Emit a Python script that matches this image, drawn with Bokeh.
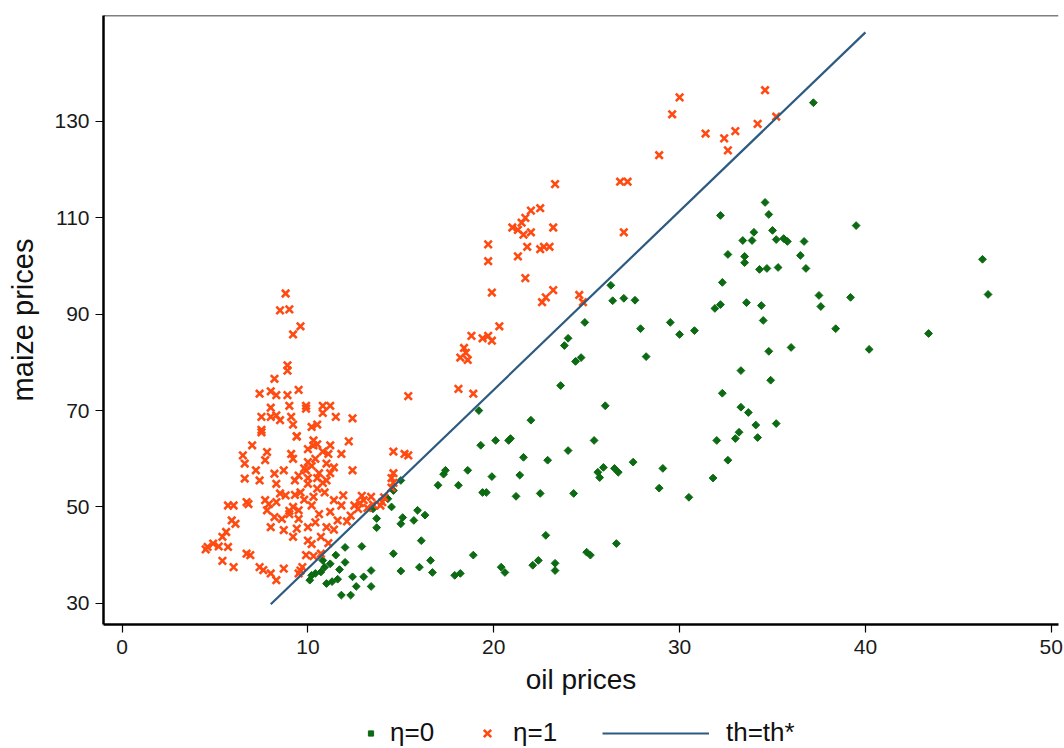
from bokeh.plotting import figure
from bokeh.layouts import column
from bokeh.models import FixedTicker, Span, Legend, LegendItem, Range1d
from bokeh.embed import file_html
from bokeh.resources import INLINE
import math

# ---------------- data ----------------
x_ticks = [0, 10, 20, 30, 40, 50]
y_ticks = [30, 50, 70, 90, 110, 130]

# eta = 1 (orange crosses)
eta1_x = [34.6, 30.0, 29.6, 35.2, 34.2, 31.4, 33.0, 32.4, 32.6, 28.9, 27.2, 26.8, 23.3, 27.0,
          22.5, 22.0, 21.7, 21.5, 21.0, 21.3, 21.6, 22.0, 23.2, 19.7, 21.8, 23.0, 22.7, 22.5, 19.7,
          21.3, 21.7, 23.2, 22.6, 22.8, 24.6, 24.8, 19.9, 20.3, 19.7, 19.4, 19.9, 18.8, 18.4, 18.5,
          18.2, 18.6, 18.1, 18.9, 15.4,
          14.6, 15.2, 15.4, 14.6, 14.5, 14.6, 14.5,
          8.8, 8.5, 9.0, 9.6, 9.2, 8.9, 8.9, 8.2, 7.4, 8.0, 8.3, 8.9, 9.5, 8.0, 9.0, 9.9, 9.9, 10.8,
          11.2, 10.8, 7.5, 8.0, 8.3, 8.5, 9.1, 9.2, 11.5, 7.5, 10.2, 10.5, 9.4, 10.3, 12.4, 12.2,
          7.5, 9.4, 7.0, 6.5, 6.6, 6.6, 7.8, 7.7, 7.2, 7.4, 8.2, 9.1, 9.2, 8.7, 10.0, 10.3, 10.5,
          11.2, 11.1, 11.8, 11.4, 12.4, 9.9, 10.0, 10.5, 9.3, 8.3, 8.5, 7.7, 7.9, 8.3, 8.8, 9.2,
          9.5, 9.0, 10.0, 10.5, 10.3, 10.2, 11.4, 11.9, 11.8, 12.5, 13.0, 13.4, 12.7, 6.0, 5.7,
          6.7, 5.9, 6.1, 5.6, 5.4, 4.9, 4.6, 4.5, 5.7, 5.2, 5.4, 6.0, 6.7, 6.9, 7.4, 7.6, 8.0, 8.3,
          8.7, 7.8, 8.2, 8.0, 8.6, 9.0, 9.5, 9.2, 10.0, 10.0, 10.2, 10.7, 11.0, 11.4, 11.6, 12.1,
          11.1, 10.7, 10.3, 9.9, 9.6, 9.5, 9.7,
          9.8, 10.2, 10.6, 10.4, 10.8, 9.5, 10.0, 11.0, 11.2, 10.8, 9.6, 13.5, 14.0, 14.1, 13.9,
          12.8, 11.0, 10.9, 9.8, 9.3, 10.6, 11.2, 12.3, 10.4, 8.7, 9.4, 6.8, 12.9, 13.2]
eta1_y = [136.5, 135.0, 131.5, 131.0, 129.5, 127.5, 128.0, 126.5, 124.0, 123.0, 117.5, 117.5, 117.0, 107.0,
          112.0, 111.5, 110.0, 109.0, 108.0, 107.5, 106.5, 107.0, 108.0, 104.5, 104.0, 104.0, 104.0, 103.5, 101.0,
          102.0, 97.5, 95.0, 92.5, 93.5, 94.0, 92.5, 94.5, 87.5, 85.5, 85.0, 84.5, 85.5, 83.0, 82.0,
          81.0, 80.5, 74.5, 73.5, 73.0,
          61.5, 61.0, 60.7, 57.0, 56.0, 55.0, 54.0,
          94.3, 90.8, 91.0, 87.5, 85.8, 79.4, 78.3, 76.6, 73.5, 74.0, 73.2, 73.2, 74.3, 70.6, 71.0, 71.0, 70.4, 71.0,
          71.0, 69.5, 68.7, 68.7, 69.0, 68.0, 68.7, 67.1, 68.7, 66.0, 66.6, 67.1, 64.7, 63.8, 68.4, 63.6,
          65.5, 64.6, 62.8, 60.7, 59.0, 55.9, 61.4, 59.7, 57.6, 55.5, 56.9, 61.0, 60.0, 57.6, 59.3, 62.8, 63.0,
          62.8, 61.0, 61.0, 58.2, 57.6, 57.6, 56.0, 56.0, 55.5, 54.8, 52.8, 51.4, 50.6, 51.0, 52.4, 50.0,
          49.3, 49.2, 54.8, 53.8, 52.1, 50.3, 51.4, 52.4, 50.3, 50.3, 51.4, 52.1, 49.6, 50.3, 50.3,
          51.0, 47.2, 46.5, 44.8, 43.8, 42.4, 41.7, 41.2, 41.7, 41.8, 38.8, 37.5, 40.3, 40.0, 37.5, 36.9, 36.2, 34.8,
          37.2, 49.3, 47.9, 45.8, 47.5, 48.5, 47.5, 43.8, 45.8, 43.0, 42.3, 43.8, 45.8, 45.3, 47.2, 47.0,
          42.5, 40.3, 39.8, 40.0, 36.8, 36.2, 37.5,
          58.0, 58.5, 57.0, 60.0, 61.5, 56.5, 62.0, 59.0, 57.0, 55.0, 53.0, 50.5, 51.0, 52.0, 50.3,
          50.8, 55.5, 53.0, 51.5, 52.5, 48.5, 49.0, 48.2, 46.8, 45.2, 45.5, 50.6, 52.3, 49.8]

# eta = 0 (green diamonds)
eta0_x = [15.0, 14.6, 14.3, 14.5, 13.5, 13.7, 13.7, 15.1, 15.7, 15.0, 12.0, 12.9, 11.5, 11.2, 10.8,
          10.4, 10.2, 10.1, 11.0, 11.3, 12.4, 13.0, 13.4, 13.4, 11.8, 12.3, 14.6, 15.0, 16.0,
          12.0, 11.7, 10.7, 10.9, 11.6, 12.6,
          15.9, 16.1, 16.3, 16.6, 16.7, 17.0, 17.3, 17.4, 18.1, 18.6, 17.9, 18.2, 18.9, 19.2, 19.3,
          19.4, 19.6, 19.9, 20.1, 20.4, 20.6, 20.8, 20.9, 21.2, 21.4, 21.6, 22.0, 22.1, 22.4, 22.5,
          22.8, 22.9, 23.3, 23.3, 23.6, 23.8, 24.0, 24.0, 24.3, 24.4, 24.7, 24.9, 25.0, 25.2, 25.4,
          25.6, 25.7, 25.9, 26.0, 26.3, 26.4, 26.5, 26.7, 26.6, 27.0, 27.5, 27.6, 27.9, 28.2, 28.9,
          29.1, 29.5, 30.0, 30.5, 30.8, 31.8, 32.0, 31.9, 32.2, 32.2, 32.3, 32.6, 32.3, 32.6, 33.0,
          33.2, 33.3, 33.3, 33.4, 33.5, 33.5, 33.6, 33.7, 33.9, 34.0, 34.1, 34.2, 34.3, 34.4, 34.5,
          34.6, 34.7, 34.8, 34.8, 34.9, 35.0, 35.2, 35.2, 35.3, 35.6, 35.8, 36.0, 36.5, 36.7, 36.8,
          37.2, 37.5, 37.6, 38.4, 39.2, 39.5, 40.2, 43.4, 46.3, 46.6]
eta0_y = [55.5, 53.4, 51.7, 50.0, 49.6, 47.6, 45.7, 47.8, 47.2, 46.5, 41.6, 41.8, 40.0, 38.2, 38.9,
          36.2, 35.8, 34.8, 34.1, 34.5, 35.5, 35.5, 36.8, 33.5, 31.7, 31.7, 40.3, 36.7, 37.5,
          38.5, 37.0, 36.5, 37.5, 35.0, 33.5,
          49.3, 43.0, 48.3, 38.9, 36.4, 54.5, 56.8, 57.6, 54.5, 57.6, 35.8, 36.2, 40.0, 70.0, 62.8,
          53.0, 53.0, 56.3, 63.8, 37.5, 36.4, 63.8, 64.2, 52.2, 56.6, 60.3, 68.0, 37.9, 38.9, 52.8,
          44.1, 59.7, 36.8, 38.3, 75.2, 83.5, 85.0, 61.7, 52.8, 80.2, 81.0, 88.3, 40.6, 40.0, 63.8,
          57.2, 56.1, 58.2, 71.0, 96.0, 92.8, 58.0, 57.2, 42.4, 93.3, 59.3, 92.9, 87.0, 81.2, 53.9,
          58.0, 88.3, 85.8, 52.0, 86.6, 56.0, 63.8, 91.2, 92.0, 110.5, 96.6, 102.4, 73.6, 59.7, 64.2,
          65.5, 70.7, 78.3, 105.3, 100.7, 102.0, 92.4, 69.6, 105.3, 107.0, 67.0, 64.4, 99.3, 91.8, 88.7,
          113.2, 99.5, 110.7, 82.3, 76.3, 107.4, 105.5, 67.3, 99.7, 105.7, 105.1, 83.1, 102.2, 105.1, 99.5,
          133.9, 93.9, 91.6, 87.0, 93.5, 108.4, 82.7, 86.0, 101.4, 94.1]

# th = th* line
line_x = [8.0, 40.0]
line_y = [29.8, 148.5]

legend_labels = ["η=0", "η=1", "th=th*"]

# ---------------- styles ----------------
GREEN = "#0b6a12"
ORANGE = "#ff4a12"
NAVY = "#2c5a80"
FONT = "Liberation Sans"
x_lo, x_hi = -1.0, 50.39
y_lo, y_hi = 25.6, 152.0

green_style = dict(marker="square", size=5.5, angle=math.pi / 4, fill_color=GREEN, line_color=GREEN)
orange_style = dict(marker="x", size=10.5, line_color=ORANGE, line_width=2.6)
line_style = dict(line_color=NAVY, line_width=2.2)

p = figure(width=1064, height=708,
           x_range=Range1d(x_lo, x_hi), y_range=Range1d(y_lo, y_hi),
           output_backend="svg", toolbar_location=None,
           min_border_left=103, min_border_right=6, min_border_top=15, min_border_bottom=84)

p.outline_line_color = None
p.xgrid.visible = False
p.ygrid.visible = False
p.background_fill_color = "white"
p.border_fill_color = "white"

p.scatter(eta0_x, eta0_y, **green_style)
p.scatter(eta1_x, eta1_y, **orange_style)
p.line(line_x, line_y, **line_style)

p.add_layout(Span(location=y_hi, dimension="width", line_color="black", line_width=1.5))

for ax in (p.xaxis[0], p.yaxis[0]):
    ax.axis_line_color = "black"
    ax.axis_line_width = 2.5
    ax.major_tick_line_color = "black"
    ax.major_tick_line_width = 1.2
    ax.major_tick_out = 8
    ax.major_tick_in = 0
    ax.minor_tick_line_color = None
    ax.major_label_text_font = FONT
    ax.major_label_text_font_size = "21px"
    ax.major_label_text_color = "#1a1a1a"
    ax.axis_label_text_font = FONT
    ax.axis_label_text_font_style = "normal"
    ax.axis_label_text_color = "#111111"

p.xaxis.axis_label_text_font_size = "28px"
p.yaxis.axis_label_text_font_size = "29px"
p.xaxis.ticker = FixedTicker(ticks=x_ticks)
p.yaxis.ticker = FixedTicker(ticks=y_ticks)
p.xaxis.axis_label = "oil prices"
p.yaxis.axis_label = "maize prices"
p.xaxis.major_label_standoff = 7
p.yaxis.major_label_standoff = 6
p.xaxis.axis_label_standoff = 7
p.yaxis.axis_label_standoff = 12

# ---------------- legend strip ----------------
# The strip's ranges lie far outside the data, so its renderers show only in the legend.
lf = figure(width=1064, height=40, x_range=Range1d(-3, -2), y_range=Range1d(-3, -2),
            output_backend="svg", toolbar_location=None,
            x_axis_type=None, y_axis_type=None, min_border=0)
lf.outline_line_color = None
lf.xgrid.visible = False
lf.ygrid.visible = False
lg = lf.scatter(eta0_x, eta0_y, **green_style)
lo = lf.scatter(eta1_x, eta1_y, **orange_style)
ll = lf.line(line_x, line_y, **line_style)

common = dict(orientation="horizontal", glyph_height=26, label_height=26, padding=0, margin=0,
              border_line_color=None, background_fill_alpha=0,
              label_text_font=FONT, label_text_font_size="26px", label_text_color="#111111")
# column() aligns frames, so the strip's frame starts at the main frame's left edge (103 px)
leg_g = Legend(items=[LegendItem(label=legend_labels[0], renderers=[lg])],
               location=(261, 0), glyph_width=13, label_standoff=13, **common)
leg_o = Legend(items=[LegendItem(label=legend_labels[1], renderers=[lo])],
               location=(371, 0), glyph_width=26, label_standoff=13, **common)
leg_l = Legend(items=[LegendItem(label=legend_labels[2], renderers=[ll])],
               location=(499, 0), glyph_width=107, label_standoff=17, **common)
lf.add_layout(leg_g)
lf.add_layout(leg_o)
lf.add_layout(leg_l)

open("out.html", "w").write(file_html(column(p, lf, spacing=0), INLINE))
